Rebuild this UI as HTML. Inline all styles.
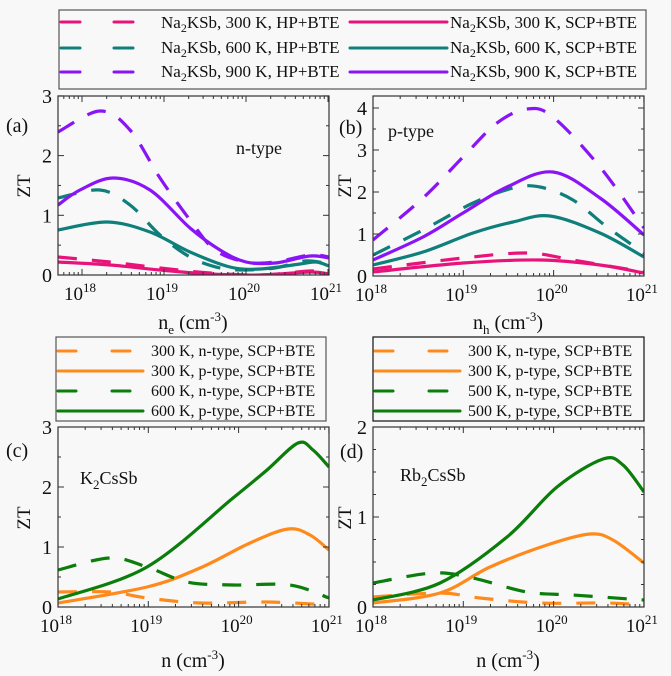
<!DOCTYPE html>
<html><head><meta charset="utf-8"><style>
body{margin:0;background:#f8f8f8;}
svg{display:block;font-family:"Liberation Serif",serif;}
</style></head><body>
<svg id="s" width="671" height="676" viewBox="0 0 671 676" xmlns="http://www.w3.org/2000/svg">
<rect width="671" height="676" fill="#f8f8f8"/>
<!-- top legend -->
<rect x="59" y="10" width="587" height="79" fill="none" stroke="#555" stroke-width="1.2"/>
<g stroke-width="3" stroke-linecap="round">
<line x1="61" y1="22" x2="80" y2="22" stroke="#e8137a"/><line x1="114" y1="22" x2="133" y2="22" stroke="#e8137a"/>
<line x1="61" y1="48" x2="80" y2="48" stroke="#0e7f7a"/><line x1="114" y1="48" x2="133" y2="48" stroke="#0e7f7a"/>
<line x1="61" y1="72" x2="80" y2="72" stroke="#8a14f5"/><line x1="114" y1="72" x2="133" y2="72" stroke="#8a14f5"/>
<line x1="350" y1="22" x2="447" y2="22" stroke="#e8137a"/>
<line x1="350" y1="48" x2="447" y2="48" stroke="#0e7f7a"/>
<line x1="350" y1="72" x2="447" y2="72" stroke="#8a14f5"/>
</g>
<g font-size="17" fill="#111">
<text x="161" y="28">Na<tspan font-size="12" dy="4">2</tspan><tspan dy="-4">KSb, 300 K, HP+BTE</tspan></text>
<text x="161" y="53">Na<tspan font-size="12" dy="4">2</tspan><tspan dy="-4">KSb, 600 K, HP+BTE</tspan></text>
<text x="161" y="77">Na<tspan font-size="12" dy="4">2</tspan><tspan dy="-4">KSb, 900 K, HP+BTE</tspan></text>
<text x="450" y="28">Na<tspan font-size="12" dy="4">2</tspan><tspan dy="-4">KSb, 300 K, SCP+BTE</tspan></text>
<text x="450" y="53">Na<tspan font-size="12" dy="4">2</tspan><tspan dy="-4">KSb, 600 K, SCP+BTE</tspan></text>
<text x="450" y="77">Na<tspan font-size="12" dy="4">2</tspan><tspan dy="-4">KSb, 900 K, SCP+BTE</tspan></text>
</g>
<!-- bottom legends -->
<rect x="56" y="337" width="270" height="84" fill="none" stroke="#555" stroke-width="1.2"/>
<rect x="373" y="337" width="271" height="84" fill="none" stroke="#111" stroke-width="1.2"/>
<g stroke-width="3" stroke-linecap="round">
<line x1="58" y1="351" x2="76" y2="351" stroke="#ff8a1c"/><line x1="112" y1="351" x2="130" y2="351" stroke="#ff8a1c"/>
<line x1="58" y1="371" x2="143" y2="371" stroke="#ff8a1c"/>
<line x1="58" y1="391" x2="76" y2="391" stroke="#0a7d0a"/><line x1="112" y1="391" x2="130" y2="391" stroke="#0a7d0a"/>
<line x1="58" y1="411" x2="143" y2="411" stroke="#0a7d0a"/>
<line x1="375" y1="351" x2="393" y2="351" stroke="#ff8a1c"/><line x1="429" y1="351" x2="447" y2="351" stroke="#ff8a1c"/>
<line x1="375" y1="371" x2="460" y2="371" stroke="#ff8a1c"/>
<line x1="375" y1="391" x2="393" y2="391" stroke="#0a7d0a"/><line x1="429" y1="391" x2="447" y2="391" stroke="#0a7d0a"/>
<line x1="375" y1="411" x2="460" y2="411" stroke="#0a7d0a"/>
</g>
<g font-size="16" fill="#111">
<text x="151" y="356">300 K, n-type, SCP+BTE</text>
<text x="151" y="376">300 K, p-type, SCP+BTE</text>
<text x="151" y="396">600 K, n-type, SCP+BTE</text>
<text x="151" y="416">600 K, p-type, SCP+BTE</text>
<text x="468" y="356">300 K, n-type, SCP+BTE</text>
<text x="468" y="376">300 K, p-type, SCP+BTE</text>
<text x="468" y="396">500 K, n-type, SCP+BTE</text>
<text x="468" y="416">500 K, p-type, SCP+BTE</text>
</g>
<g id="plots"></g>
<g font-size="20" fill="#111">
<text x="6" y="132">(a)</text>
<text x="339" y="134">(b)</text>
<text x="6" y="457">(c)</text>
<text x="340" y="458">(d)</text>
<text x="236" y="154" font-size="18">n-type</text>
<text x="388" y="137" font-size="18">p-type</text>
<text x="80" y="484" font-size="18">K<tspan font-size="13" dy="5">2</tspan><tspan dy="-5">CsSb</tspan></text>
<text x="400" y="481" font-size="18">Rb<tspan font-size="13" dy="5">2</tspan><tspan dy="-5">CsSb</tspan></text>
<text transform="translate(30,186) rotate(-90)" text-anchor="middle" font-size="19">ZT</text>
<text transform="translate(351,186) rotate(-90)" text-anchor="middle" font-size="19">ZT</text>
<text transform="translate(30,518) rotate(-90)" text-anchor="middle" font-size="19">ZT</text>
<text transform="translate(351,518) rotate(-90)" text-anchor="middle" font-size="19">ZT</text>
<text x="193" y="329" text-anchor="middle">n<tspan font-size="13" dy="5">e</tspan><tspan dy="-5"> (cm</tspan><tspan font-size="13" dy="-8">-3</tspan><tspan dy="8">)</tspan></text>
<text x="508" y="329" text-anchor="middle">n<tspan font-size="13" dy="5">h</tspan><tspan dy="-5"> (cm</tspan><tspan font-size="13" dy="-8">-3</tspan><tspan dy="8">)</tspan></text>
<text x="193" y="667" text-anchor="middle">n (cm<tspan font-size="13" dy="-8">-3</tspan><tspan dy="8">)</tspan></text>
<text x="508" y="667" text-anchor="middle">n (cm<tspan font-size="13" dy="-8">-3</tspan><tspan dy="8">)</tspan></text>
</g>
</svg>
<script>
var NS="http://www.w3.org/2000/svg",G=document.getElementById("plots");
function el(t,a,p){var e=document.createElementNS(NS,t);for(var k in a)e.setAttribute(k,a[k]);(p||G).appendChild(e);return e;}
function txt(x,y,s,anchor,sz){var e=el("text",{x:x,y:y,"font-size":sz||19,"text-anchor":anchor||"middle",fill:"#111"});e.textContent=s;return e;}
function cr(pts){var d="M"+pts[0][0]+","+pts[0][1];for(var i=0;i<pts.length-1;i++){var p0=pts[i-1]||pts[i],p1=pts[i],p2=pts[i+1],p3=pts[i+2]||p2;
d+=" C"+(p1[0]+(p2[0]-p0[0])/6).toFixed(1)+","+(p1[1]+(p2[1]-p0[1])/6).toFixed(1)+" "+(p2[0]-(p3[0]-p1[0])/6).toFixed(1)+","+(p2[1]-(p3[1]-p1[1])/6).toFixed(1)+" "+p2[0]+","+p2[1];}return d;}
function panel(o){
 var L=o.L,R=o.R,T=o.T,B=o.B;
 var cid="c"+L+T;var cp=el("clipPath",{id:cid});el("rect",{x:L,y:T,width:R-L,height:B-T},cp);
 var g=el("g",{"clip-path":"url(#"+cid+")"});
 o.series.forEach(function(s){el("path",{d:cr(s.p),fill:"none",stroke:s.c,"stroke-width":3.2,"stroke-dasharray":s.d?"19,15":"none"},g);});
 el("rect",{x:L,y:T,width:R-L,height:B-T,fill:"none",stroke:"#333","stroke-width":1.2});
 // x ticks
 var dec=o.dec,x0=o.x0; // x of 1e18
 for(var k=-1;k<4;k++)for(var m=1;m<10;m++){var x=x0+(k+Math.log10(m))*dec;if(x<L-0.5||x>R+0.5)continue;var len=m==1?6:3;
  el("line",{x1:x,y1:B,x2:x,y2:B-len,stroke:"#333","stroke-width":1});el("line",{x1:x,y1:T,x2:x,y2:T+len,stroke:"#333","stroke-width":1});
  if(m==1){var t=txt(x-2,B+25,"10","middle",19);var ts=el("tspan",{"font-size":13,dy:-8},t);ts.textContent=(18+k);}}
 // y ticks
 var ymax=o.ymax,y0=B,u=o.unit,step=o.minor;
 for(var v=0;v<=ymax+1e-6;v+=step){var y=y0-v*u;var maj=Math.abs(v-Math.round(v))<1e-6;var len=maj?6:3;
  el("line",{x1:L,y1:y,x2:L+len,y2:y,stroke:"#333","stroke-width":1});el("line",{x1:R,y1:y,x2:R-len,y2:y,stroke:"#333","stroke-width":1});
  if(maj)txt(L-6,y+7,String(Math.round(v)),"end",20);}
}
var P="#e8137a",TE="#0e7f7a",PU="#8a14f5",O="#ff8a1c",GR="#0a7d0a";
panel({L:58,R:329,T:96,B:275,x0:82,dec:82,ymax:3,unit:59.7,minor:0.5,series:[
 {c:P,d:0,p:[[58,262],[110,265],[160,270],[210,274],[260,275],[310,272],[329,274]]},
 {c:P,d:1,p:[[58,257],[110,262],[160,268],[210,273],[260,275],[310,271],[329,273]]},
 {c:TE,d:0,p:[[58,230],[107,222],[150,232],[190,252],[230,267],[260,269],[300,264],[316,262],[329,266]]},
 {c:TE,d:1,p:[[58,198],[100,190],[130,205],[160,235],[190,257],[220,268],[245,270],[275,268],[305,261],[329,264]]},
 {c:PU,d:0,p:[[58,205],[80,190],[113,178],[150,190],[190,228],[220,250],[246,262],[275,263],[310,256],[329,258]]},
 {c:PU,d:1,p:[[58,132],[100,111],[130,130],[160,178],[190,220],[215,250],[246,262],[275,262],[310,255],[329,257]]}
]});
panel({L:373,R:644,T:96,B:276,x0:373,dec:90.3,ymax:4.26,unit:42,minor:0.5,series:[
 {c:P,d:0,p:[[373,272],[463,263],[540,260],[600,265],[644,273]]},
 {c:P,d:1,p:[[373,269],[463,258],[527,253],[573,260],[644,272]]},
 {c:TE,d:0,p:[[373,265],[423,252],[473,233],[513,222],[550,216],[600,233],[644,257]]},
 {c:TE,d:1,p:[[373,255],[423,230],[473,203],[513,188],[540,187],[573,200],[607,227],[644,253]]},
 {c:PU,d:0,p:[[373,260],[423,237],[463,213],[507,187],[553,172],[600,198],[644,235]]},
 {c:PU,d:1,p:[[373,240],[423,198],[463,157],[497,123],[527,109],[553,117],[600,167],[644,228]]}
]});
panel({L:58,R:329,T:427,B:607,x0:58,dec:90.3,ymax:3,unit:60,minor:0.5,series:[
 {c:O,d:1,p:[[58,592],[110,592],[147,598],[200,603],[267,602],[329,605]]},
 {c:O,d:0,p:[[58,603],[147,587],[200,568],[250,543],[288,529],[310,535],[329,550]]},
 {c:GR,d:1,p:[[58,570],[110,558],[147,567],[187,582],[233,585],[290,585],[329,598]]},
 {c:GR,d:0,p:[[58,599],[147,567],[233,498],[267,470],[298,443],[313,450],[329,467]]}
]});
panel({L:373,R:644,T:427,B:607,x0:373,dec:90.3,ymax:2,unit:90,minor:0.25,series:[
 {c:O,d:1,p:[[373,597],[440,593],[480,598],[540,603],[607,603],[644,605]]},
 {c:O,d:0,p:[[373,603],[440,593],[490,567],[547,545],[590,534],[613,540],[644,563]]},
 {c:GR,d:1,p:[[373,583],[433,573],[473,578],[527,592],[573,595],[644,600]]},
 {c:GR,d:0,p:[[373,600],[440,583],[507,537],[557,487],[603,459],[623,465],[644,492]]}
]});
</script>
</body></html>
